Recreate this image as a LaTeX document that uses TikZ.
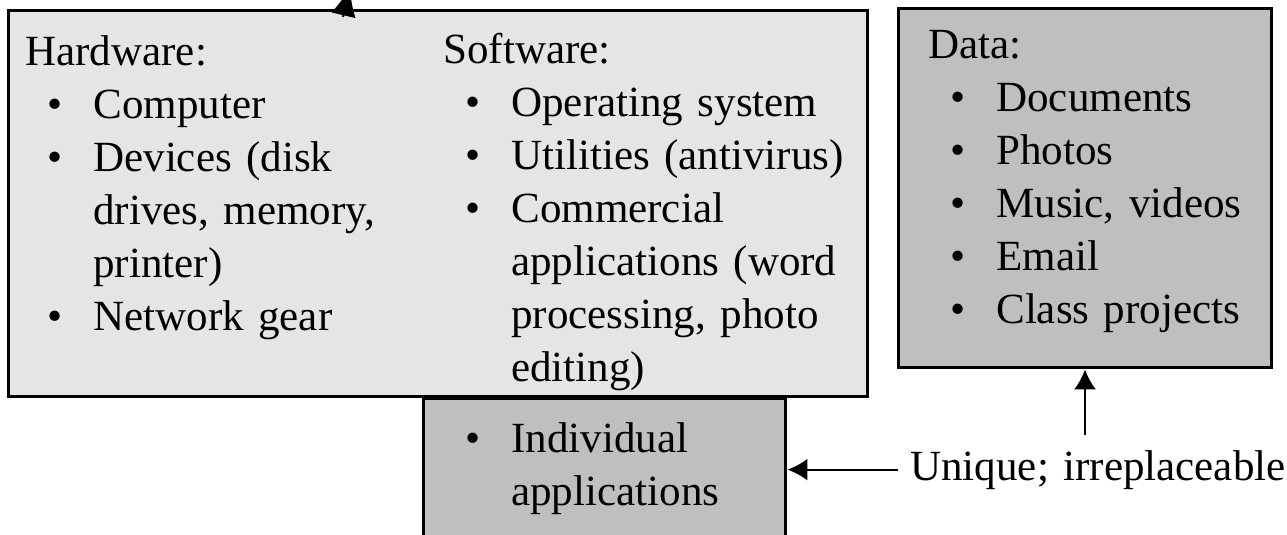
\documentclass[tikz,border=0pt]{standalone}
\usepackage{fontspec}
\setmainfont{Liberation Serif}
\usetikzlibrary{arrows.meta}
\definecolor{palegray}{rgb}{0.9,0.9,0.9}
\definecolor{midgray}{rgb}{0.75,0.75,0.75}
\newcommand{\itembul}{\hspace*{0.45cm}\makebox[0.91cm][l]{\textbullet}}
\newcommand{\itemcont}{\hspace*{1.36cm}}

\begin{document}
\begin{tikzpicture}[x=0.02cm, y=-0.02cm,
  box/.style={rectangle, draw=black, line width=1.7pt, inner sep=0pt},
  lst/.style={anchor=base west, inner sep=0pt, text width=9cm, align=left, font=\fontsize{24.5}{30.2}\selectfont},
  arr/.style={-{Latex[length=0.4cm,width=0.44cm]}, line width=1.1pt}]
 \useasboundingbox (0,0) rectangle (1287,534);
 % boxes
 \node [box, fill=midgray, minimum width=7.26cm, minimum height=3.24cm] (INDIV) at (604.5,479) {};
 \node [box, fill=palegray, minimum width=17.2cm, minimum height=7.74cm] (HW) at (438,203.5) {};
 \node [box, fill=midgray, minimum width=7.48cm, minimum height=7.2cm] (DATA) at (1085,188) {};
 % lists
 \node [lst] (HWTXT) at (25,65) {Hardware:\\ \itembul Computer\\ \itembul Devices (disk\\ \itemcont drives, memory,\\ \itemcont printer)\\ \itembul Network gear};
 \node [lst] (SWTXT) at (443,63) {Software:\\ \itembul Operating system\\ \itembul Utilities (antivirus)\\ \itembul Commercial\\ \itemcont applications (word\\ \itemcont processing, photo\\ \itemcont editing)};
 \node [lst] (DATATXT) at (928,58) {Data:\\ \itembul Documents\\ \itembul Photos\\ \itembul Music, videos\\ \itembul Email\\ \itembul Class projects};
 \node [lst] (INDIVTXT) at (443,452) {\itembul Individual\\ \itemcont applications};
 \node [lst, inner xsep=0.24cm, inner ysep=0.3cm] (UNIQUE) at (898,480) {Unique; irreplaceable};
 % arrows
 \coordinate (HWFOOT) at (343,17);
 \coordinate (HWUP) at (350,-13);
 \draw [arr, -{Latex[length=0.58cm,width=0.5cm]}] (HWFOOT) -- (HWUP);
 \draw [arr] (UNIQUE.west) -- (UNIQUE.west -| INDIV.east);
 \draw [arr] (DATA.south |- UNIQUE.north) -- (DATA.south);
\end{tikzpicture}
\end{document}
